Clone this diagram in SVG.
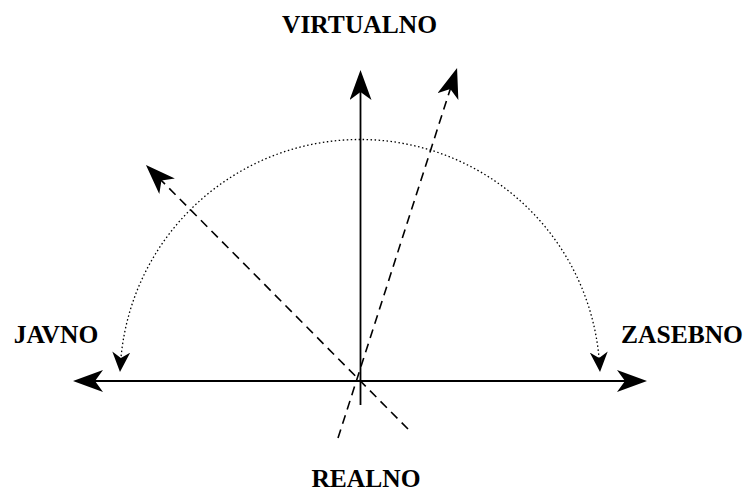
<svg xmlns="http://www.w3.org/2000/svg" width="747" height="495" viewBox="0 0 747 495">
<style>
  .lbl { font-family: "Liberation Serif", "Times New Roman", serif; font-weight: bold; font-size: 25.5px; fill: #000; text-anchor: middle; }
  .axis { stroke: #000; stroke-width: 1.8; fill: none; }
  .dash { stroke: #000; stroke-width: 1.6; fill: none; stroke-dasharray: 9 6; }
  .dot { stroke: #000; stroke-width: 1.3; fill: none; stroke-dasharray: 1.5 2.5; }
</style>
<defs>
  <marker id="big" markerUnits="userSpaceOnUse" markerWidth="32" markerHeight="24" refX="20" refY="11" orient="auto-start-reverse">
    <path d="M0,0 L30,11 L0,22 L8,11 Z" fill="#000" stroke="none"/>
  </marker>
  <marker id="small" markerUnits="userSpaceOnUse" markerWidth="22" markerHeight="20" refX="12" refY="9" orient="auto-start-reverse">
    <path d="M0,0 L20,9 L0,18 L6,9 Z" fill="#000" stroke="none"/>
  </marker>
</defs>
<g id="connectors">
  <path id="arc" class="dot" d="M120.5,364 A240,240 0 0 1 599.5,364" marker-start="url(#small)" marker-end="url(#small)"/>
  <path id="horizontal" class="axis" d="M83,381 L637,381" marker-start="url(#big)" marker-end="url(#big)"/>
  <path id="vertical" class="axis" d="M360.5,405 L360.5,80" marker-end="url(#big)"/>
  <path id="dashed-right" class="dash" d="M338,438 L454,77.5" marker-end="url(#big)"/>
  <path id="dashed-left" class="dash" d="M408,429 L153,172" marker-end="url(#big)"/>
</g>
<g id="node-virtualno"><text class="lbl" x="359.5" y="33">VIRTUALNO</text></g>
<g id="node-javno"><text class="lbl" x="56" y="343">JAVNO</text></g>
<g id="node-zasebno"><text class="lbl" x="682" y="343">ZASEBNO</text></g>
<g id="node-realno"><text class="lbl" x="366" y="487">REALNO</text></g>
</svg>
